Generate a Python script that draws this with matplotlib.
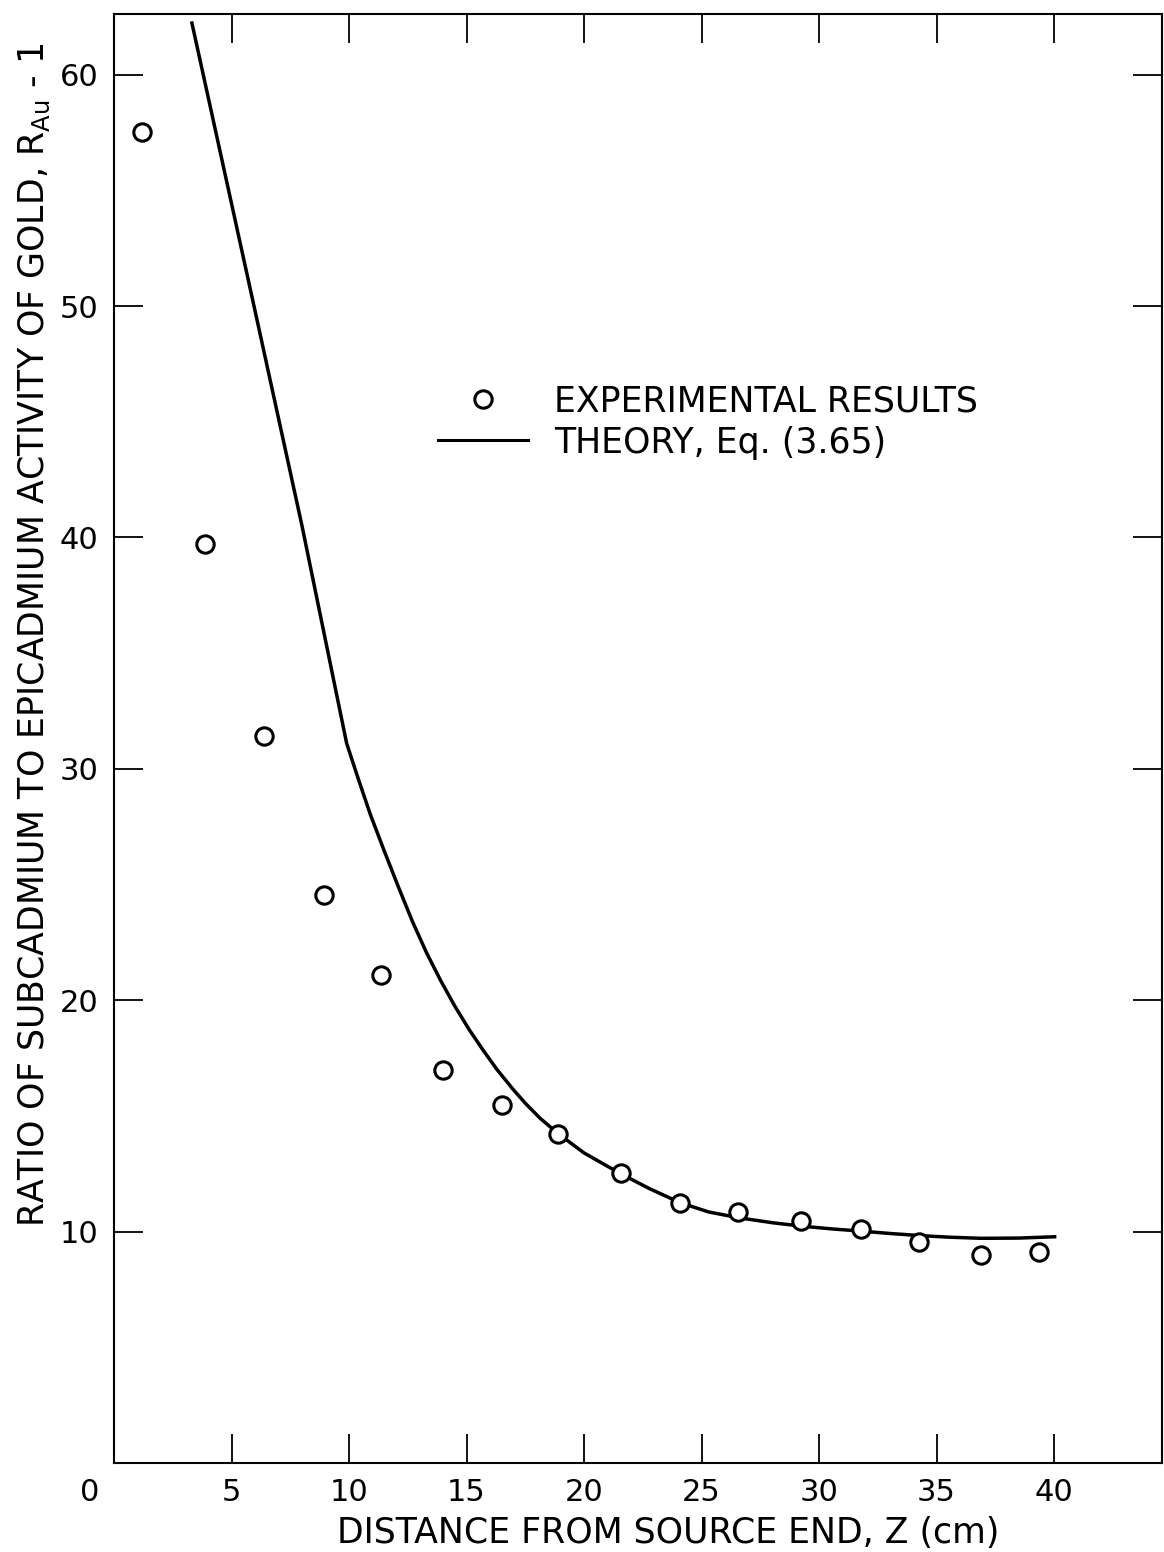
import numpy as np
import matplotlib
matplotlib.use("Agg")
import matplotlib.pyplot as plt
from matplotlib.lines import Line2D
import matplotlib.transforms as mtransforms

# experimental points
z_exp = [1.2, 3.87, 6.4, 8.95, 11.36, 13.99, 16.5, 18.88, 21.56, 24.09,
         26.57, 29.23, 31.8, 34.26, 36.9, 39.36]
r_exp = [57.5, 39.7, 31.4, 24.55, 21.1, 17.0, 15.45, 14.2, 12.52, 11.22,
         10.86, 10.47, 10.1, 9.55, 8.99, 9.12]

# theory curve, Eq. (3.65)
z_th = [3.3, 6.0, 8.0, 9.9, 10.4, 10.9, 11.5, 12.1, 12.7, 13.3, 13.9, 14.5,
        15.1, 15.7, 16.3, 16.98, 17.5, 18.13, 18.88, 20.0, 21.56, 22.8, 24.09,
        25.3, 26.57, 28.04, 29.23, 30.5, 31.8, 33.0, 34.26, 35.5, 36.9, 38.5,
        40.1]
r_th = [62.3, 49.8, 40.5, 31.1, 29.55, 28.05, 26.45, 24.9, 23.4, 22.05, 20.85,
        19.75, 18.75, 17.85, 17.0, 16.15, 15.55, 14.9, 14.25, 13.4, 12.5, 11.85,
        11.25, 10.85, 10.6, 10.38, 10.24, 10.12, 10.02, 9.92, 9.83, 9.76, 9.71,
        9.72, 9.78]

xticks = [0, 5, 10, 15, 20, 25, 30, 35, 40]
xticklabels = ["0", "5", "10", "15", "20", "25", "30", "35", "40"]
yticks = [10, 20, 30, 40, 50, 60]
yticklabels = ["10", "20", "30", "40", "50", "60"]

W, H = 1164, 1552
X0, X1, Y0, Y1 = 114, 1162, 1463, 14   # axes box in pixels
fig = plt.figure(figsize=(W / 100, H / 100), dpi=100)
ax = fig.add_axes([X0 / W, 1 - Y0 / H, (X1 - X0) / W, (Y0 - Y1) / H])

ax.plot(z_th, r_th, color="black", lw=2.5, solid_capstyle="butt")
ax.plot(z_exp, r_exp, linestyle="none", marker="o", ms=12.5, mfc="white",
        mec="black", mew=2.2)

ax.set_xlim(0, (X1 - X0) / 23.5)
ax.set_ylim(0, (Y0 - Y1) / 23.14)

ax.set_xticks(xticks)
ax.set_xticklabels(xticklabels)
ax.set_yticks(yticks)
ax.set_yticklabels(yticklabels)
ax.tick_params(axis="both", which="major", direction="in", length=21, width=1.3,
               top=True, right=True, labelsize=22, pad=11, colors="black")

# the "0" sits a little left of the corner
lab0 = ax.get_xticklabels()[0]
lab0.set_transform(lab0.get_transform() +
                   mtransforms.ScaledTranslation(-24 / 100, 0, fig.dpi_scale_trans))

for s in ax.spines.values():
    s.set_linewidth(1.5)
    s.set_color("black")

ax.set_xlabel("DISTANCE FROM SOURCE END, Z (cm)", fontsize=25)
ax.xaxis.set_label_coords((668 - X0) / (X1 - X0), -(1516 - Y0) / (Y0 - Y1))
ax.set_ylabel(r"RATIO OF SUBCADMIUM TO EPICADMIUM ACTIVITY OF GOLD, R$_{\rm Au}$ - 1",
              fontsize=25, va="center")
ax.yaxis.set_label_coords((34 - X0) / (X1 - X0), (Y0 - 635) / (Y0 - Y1))

handles = [Line2D([], [], linestyle="none", marker="o", ms=12.5, mfc="white",
                  mec="black", mew=2.2),
           Line2D([], [], color="black", lw=2.2)]
ax.legend(handles, ["EXPERIMENTAL RESULTS", "THEORY, Eq. (3.65)"],
          loc="upper left", bbox_to_anchor=((438 - X0) / (X1 - X0), (Y0 - 384) / (Y0 - Y1)),
          frameon=False, fontsize=25, handlelength=2.6, handletextpad=0.75,
          labelspacing=0.22, borderaxespad=0, borderpad=0)

fig.savefig("out.png", dpi=100)
